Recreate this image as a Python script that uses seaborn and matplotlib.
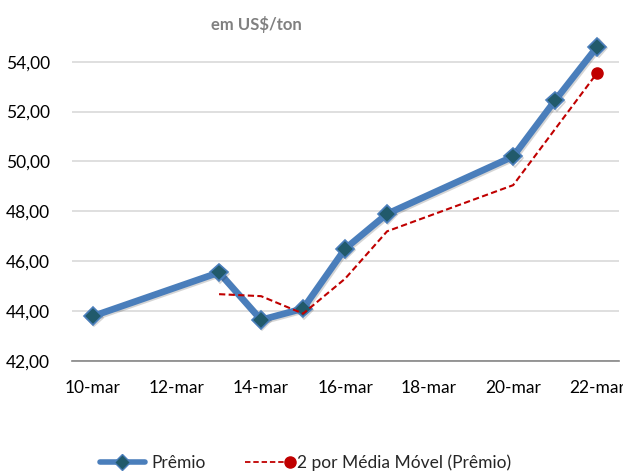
"""Prêmio em US$/ton com média móvel de 2 períodos."""

import matplotlib

matplotlib.use("Agg")

import matplotlib.patheffects as pe
import matplotlib.pyplot as plt
import pandas as pd
import seaborn as sns
from matplotlib.legend_handler import HandlerLine2D
from matplotlib.lines import Line2D
from matplotlib.ticker import FuncFormatter


DAYS = [10, 13, 14, 15, 16, 17, 20, 21, 22]
PREMIO = [43.80, 45.55, 43.65, 44.10, 46.50, 47.90, 50.20, 52.45, 54.60]

MA_DAYS = [13, 14, 15, 16, 17, 20, 21, 22]
MEDIA_MOVEL = [44.68, 44.60, 43.90, 45.30, 47.20, 49.05, 51.30, 53.55]

TICK_DAYS = [10, 12, 14, 16, 18, 20, 22]
TICK_LABELS = ["10-mar", "12-mar", "14-mar", "16-mar", "18-mar", "20-mar", "22-mar"]
Y_TICKS = [42, 44, 46, 48, 50, 52, 54]

BLUE = "#4A7EBB"
TEAL = "#215A6B"
RED = "#C00000"


class HandlerEndMarker(HandlerLine2D):
    """Legend entry with the marker at the right end of the line."""

    def create_artists(self, legend, orig_handle, xdescent, ydescent, width, height,
                       fontsize, trans):
        artists = super().create_artists(legend, orig_handle, xdescent, ydescent,
                                         width, height, fontsize, trans)
        line = artists[0]
        line.set_markevery([len(line.get_xdata()) - 1])
        return artists


def main() -> None:
    sns.set_theme(style="white")
    plt.rcParams["font.family"] = ["Lato", "DejaVu Sans"]

    premio = pd.DataFrame({"dia": DAYS, "premio": PREMIO})
    media = pd.DataFrame({"dia": MA_DAYS, "media": MEDIA_MOVEL})

    fig = plt.figure(figsize=(6.23, 4.71), dpi=100)
    ax = fig.add_axes([0.1156, 0.2335, 0.878, 0.715])

    sns.lineplot(
        data=premio, x="dia", y="premio", ax=ax, color=BLUE, linewidth=4.8,
        marker="D", markersize=9, markerfacecolor=TEAL, markeredgecolor=BLUE,
        markeredgewidth=1.2, zorder=3,
        path_effects=[pe.SimpleLineShadow(offset=(1, -1), alpha=0.18), pe.Normal()],
    )
    ax.plot(
        media["dia"], media["media"], color=RED, linewidth=1.5, linestyle=(0, (3, 1.6)),
        zorder=4,
    )
    ax.plot(media["dia"].iloc[-1:], media["media"].iloc[-1:], "o", color=RED,
            markersize=8, zorder=5)

    ax.set_xlim(9.5, 22.52)
    ax.set_ylim(42, 55.5)
    ax.set_xticks(TICK_DAYS)
    ax.set_xticklabels(TICK_LABELS)
    ax.set_yticks(Y_TICKS)
    ax.yaxis.set_major_formatter(FuncFormatter(lambda v, _: f"{v:.2f}".replace(".", ",")))
    ax.tick_params(axis="both", labelsize=12.5, colors="#000000", length=0)
    ax.tick_params(axis="y", pad=16)
    ax.tick_params(axis="x", pad=14)
    ax.set_xlabel("")
    ax.set_ylabel("")

    ax.grid(axis="y", color="#D9D9D9", linewidth=1.2)
    ax.set_axisbelow(True)
    for side in ["left", "right", "top"]:
        ax.spines[side].set_visible(False)
    ax.spines["bottom"].set_color("#868686")
    ax.spines["bottom"].set_linewidth(1.2)

    fig.text(0.411, 0.949, "em US$/ton", ha="center", va="center", fontsize=12,
             fontweight="bold", color="#808080")

    blue_handle = Line2D([], [], color=BLUE, linewidth=4, marker="D", markersize=8,
                         markerfacecolor=TEAL, markeredgecolor=BLUE)
    red_handle = Line2D([], [], color=RED, linewidth=1.3, linestyle=(0, (3, 1.6)),
                        marker="o", markersize=8)
    fig.legend(
        [blue_handle, red_handle], ["Prêmio", "2 por Média Móvel (Prêmio)"],
        loc="center", bbox_to_anchor=(0.49, 0.017), ncol=2, frameon=False,
        fontsize=12.5, handlelength=2.6, handletextpad=0.35, columnspacing=2.3,
        handler_map={red_handle: HandlerEndMarker()},
    )

    fig.savefig("out.png", dpi=100)
    plt.close(fig)


if __name__ == "__main__":
    main()
